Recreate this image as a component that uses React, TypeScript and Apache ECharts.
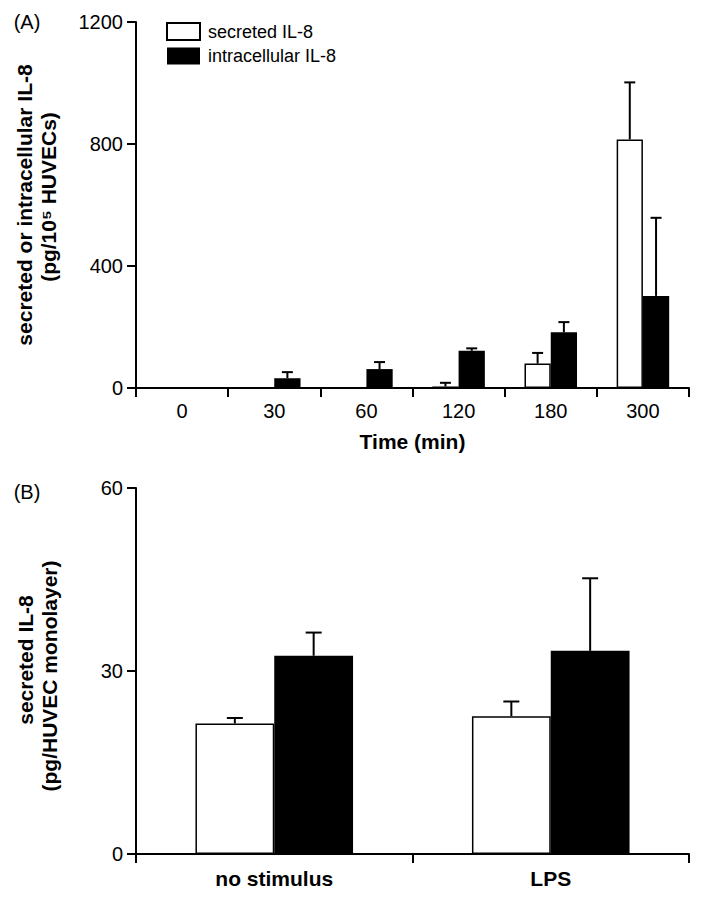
import React, { useEffect, useRef } from "react";
import * as echarts from "echarts";

const timeCategories = ["0", "30", "60", "120", "180", "300"];
const secretedA = [0, 0, 2, 5, 80, 815];
const secretedAErr = [0, 0, 0, 12, 35, 187];
const intracellularA = [0, 32, 62, 122, 183, 302];
const intracellularAErr = [0, 20, 23, 8, 33, 256];

const stimulusCategories = ["no stimulus", "LPS"];
const secretedB = [21.4, 22.6];
const secretedBErr = [0.9, 2.4];
const blackB = [32.5, 33.3];
const blackBErr = [3.8, 11.9];

const yTicksA = [0, 400, 800, 1200];
const yTicksB = [0, 30, 60];

const FONT = "Liberation Sans, Arial, Helvetica, sans-serif";
const CAT_GAP = 0.43;

function errData(vals: number[], errs: number[], side: number) {
  return vals.map((v, i) => [i, v, errs[i], side]);
}

function makeErrRender(cap: number) {
  return (params: any, api: any) => {
    const x = api.value(0);
    const v = api.value(1);
    const e = api.value(2);
    const side = api.value(3);
    if (!e) return null;
    const catW = api.size([1, 0])[0];
    const bw = (catW * (1 - CAT_GAP)) / 2;
    const base = api.coord([x, v]);
    const top = api.coord([x, v + e]);
    const cx = base[0] + (side === 0 ? -bw / 2 : bw / 2);
    return {
      type: "group",
      children: [
        {
          type: "line",
          shape: { x1: cx, y1: base[1], x2: cx, y2: top[1] },
          style: { stroke: "#000", lineWidth: 2 },
        },
        {
          type: "line",
          shape: { x1: cx - cap / 2, y1: top[1], x2: cx + cap / 2, y2: top[1] },
          style: { stroke: "#000", lineWidth: 2 },
        },
      ],
    };
  };
}

export default function App() {
  const ref = useRef<HTMLDivElement>(null);
  useEffect(() => {
    if (!ref.current) return;
    const chart = echarts.init(ref.current, null, { renderer: "svg" });
    const axisLine = { show: true, lineStyle: { color: "#000", width: 2 } };
    const axisTick = { show: true, length: 9, lineStyle: { color: "#000", width: 2 } };
    const whiteStyle = { color: "#fff", borderColor: "#000", borderWidth: 1.5 };
    const blackStyle = { color: "#000", borderColor: "#000", borderWidth: 0 };
    const titleStyle = { fontSize: 21, fontWeight: "bold", fontFamily: FONT, fill: "#000", align: "center", verticalAlign: "middle" };
    const option: any = {
      animation: false,
      textStyle: { fontFamily: FONT, color: "#000" },
      legend: {
        data: ["secreted IL-8", "intracellular IL-8"],
        orient: "vertical",
        left: 166,
        top: 22,
        itemWidth: 33,
        itemHeight: 17,
        itemGap: 6,
        padding: 0,
        icon: "rect",
        textStyle: { fontSize: 18, fontFamily: FONT, color: "#000", padding: [0, 0, 0, 3] },
        selectedMode: false,
      },
      grid: [
        { left: 136, right: 15, top: 22, height: 366 },
        { left: 136, right: 15, top: 488, height: 366 },
      ],
      xAxis: [
        {
          type: "category",
          gridIndex: 0,
          data: timeCategories,
          axisLine,
          axisTick,
          axisLabel: { fontSize: 20, color: "#000", margin: 13, fontFamily: FONT },
          name: "Time (min)",
          nameLocation: "middle",
          nameGap: 43,
          nameTextStyle: { fontSize: 21, fontWeight: "bold", color: "#000", fontFamily: FONT },
        },
        {
          type: "category",
          gridIndex: 1,
          data: stimulusCategories,
          axisLine,
          axisTick,
          axisLabel: { fontSize: 21, fontWeight: "bold", color: "#000", margin: 14, fontFamily: FONT },
        },
      ],
      yAxis: [
        {
          type: "value",
          gridIndex: 0,
          min: 0,
          max: 1200,
          interval: 400,
          axisLine,
          axisTick,
          splitLine: { show: false },
          axisLabel: { fontSize: 20, color: "#000", margin: 13, fontFamily: FONT,
            formatter: (v: number) => (yTicksA.includes(v) ? String(v) : "") },
        },
        {
          type: "value",
          gridIndex: 1,
          min: 0,
          max: 60,
          interval: 30,
          axisLine,
          axisTick,
          splitLine: { show: false },
          axisLabel: { fontSize: 20, color: "#000", margin: 13, fontFamily: FONT,
            formatter: (v: number) => (yTicksB.includes(v) ? String(v) : "") },
        },
      ],
      series: [
        {
          name: "secreted IL-8",
          type: "bar",
          xAxisIndex: 0,
          yAxisIndex: 0,
          data: secretedA,
          itemStyle: whiteStyle,
          barGap: "0%",
          barCategoryGap: "43%",
        },
        {
          name: "intracellular IL-8",
          type: "bar",
          xAxisIndex: 0,
          yAxisIndex: 0,
          data: intracellularA,
          itemStyle: blackStyle,
          barGap: "0%",
          barCategoryGap: "43%",
        },
        {
          type: "custom",
          xAxisIndex: 0,
          yAxisIndex: 0,
          renderItem: makeErrRender(11),
          data: [...errData(secretedA, secretedAErr, 0), ...errData(intracellularA, intracellularAErr, 1)],
          z: 3,
          silent: true,
        },
        {
          name: "secreted IL-8",
          type: "bar",
          xAxisIndex: 1,
          yAxisIndex: 1,
          data: secretedB,
          itemStyle: whiteStyle,
          barGap: "0%",
          barCategoryGap: "43%",
        },
        {
          name: "intracellular IL-8",
          type: "bar",
          xAxisIndex: 1,
          yAxisIndex: 1,
          data: blackB,
          itemStyle: blackStyle,
          barGap: "0%",
          barCategoryGap: "43%",
        },
        {
          type: "custom",
          xAxisIndex: 1,
          yAxisIndex: 1,
          renderItem: makeErrRender(16),
          data: [...errData(secretedB, secretedBErr, 0), ...errData(blackB, blackBErr, 1)],
          z: 3,
          silent: true,
        },
      ],
      graphic: [
        { type: "text", x: 27, y: 22, style: { text: "(A)", fontSize: 20, fontFamily: FONT, fill: "#000", align: "center", verticalAlign: "middle" } },
        { type: "text", x: 27, y: 492, style: { text: "(B)", fontSize: 20, fontFamily: FONT, fill: "#000", align: "center", verticalAlign: "middle" } },
        { type: "text", x: 24, y: 205, rotation: Math.PI / 2, style: { ...titleStyle, text: "secreted or intracellular IL-8" } },
        { type: "text", x: 48, y: 197, rotation: Math.PI / 2, style: { ...titleStyle, text: "(pg/10⁵ HUVECs)" } },
        { type: "text", x: 25, y: 660, rotation: Math.PI / 2, style: { ...titleStyle, text: "secreted IL-8" } },
        { type: "text", x: 49, y: 676, rotation: Math.PI / 2, style: { ...titleStyle, text: "(pg/HUVEC monolayer)" } },
      ],
    };
    chart.setOption(option);
    return () => chart.dispose();
  }, []);
  return (
    <div
      ref={ref}
      style={{ position: "fixed", left: 0, top: 0, width: 704, height: 898, background: "#fff" }}
    />
  );
}
